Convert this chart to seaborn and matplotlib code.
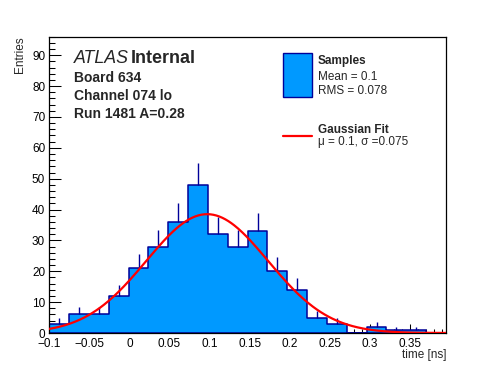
import numpy as np
import pandas as pd
import matplotlib
matplotlib.use("Agg")
import matplotlib.pyplot as plt
import seaborn as sns
from matplotlib.patches import Rectangle
from matplotlib.lines import Line2D
from matplotlib.ticker import MultipleLocator

# ---------------- data ----------------
hist_range = (-0.1, 0.395)
n_bins = 20
counts = [3, 6, 6, 12, 21, 28, 36, 48, 32, 28, 33, 20, 14, 5, 3, 0, 2, 1, 1, 0]
fit_mu = 0.097
fit_sigma = 0.076
fit_amp = 38.5
x_ticks = [-0.1, -0.05, 0, 0.05, 0.1, 0.15, 0.2, 0.25, 0.3, 0.35]
x_tick_labels = ["\u22120.1", "\u22120.05", "0", "0.05", "0.1", "0.15", "0.2", "0.25", "0.3", "0.35"]
y_ticks = [0, 10, 20, 30, 40, 50, 60, 70, 80, 90]
y_tick_labels = ["0", "10", "20", "30", "40", "50", "60", "70", "80", "90"]
info_lines = ["Board 634", "Channel 074 lo", "Run 1481 A=0.28"]
legend_hist_title = "Samples"
legend_hist_lines = ["Mean = 0.1", "RMS = 0.078"]
legend_fit_title = "Gaussian Fit"
legend_fit_line = "\u03bc = 0.1, \u03c3 =0.075"

# ---------------- style ----------------
sns.set_style("ticks")
plt.rcParams["font.family"] = ["Liberation Sans", "DejaVu Sans"]

FILL = "#0099ff"
EDGE = "#000099"
W, H = 496, 372

fig = plt.figure(figsize=(W / 100, H / 100), dpi=100)
L, R, T, B = 49.3, 446.0, 36.7, 333.0
ax = fig.add_axes([L / W, (H - B) / H, (R - L) / W, (B - T) / H])


def fp(x, y):
    return (x / W, (H - y) / H)


edges = np.linspace(hist_range[0], hist_range[1], n_bins + 1)
centers = 0.5 * (edges[:-1] + edges[1:])
cnt = np.asarray(counts, dtype=float)
df = pd.DataFrame({"time": centers, "entries": cnt})

sns.histplot(data=df, x="time", weights="entries", bins=[float(e) for e in edges],
             element="step", fill=True, color=FILL, edgecolor=EDGE, linewidth=1.1,
             alpha=1.0, ax=ax)

# statistical error bars (upper part visible above the bar)
m = cnt > 0
ax.vlines(centers[m], cnt[m], cnt[m] + np.sqrt(cnt[m]), color=EDGE, linewidth=1.0, zorder=3)

# gaussian fit
xs = np.linspace(hist_range[0], hist_range[1], 400)
ys = fit_amp * np.exp(-0.5 * ((xs - fit_mu) / fit_sigma) ** 2)
sns.lineplot(x=xs, y=ys, color="red", linewidth=1.6, ax=ax, zorder=4)

ax.set_xlim(hist_range)
ax.set_ylim(0, 96)
ax.set_xticks(x_ticks, labels=x_tick_labels)
ax.set_yticks(y_ticks, labels=y_tick_labels)
ax.xaxis.set_minor_locator(MultipleLocator(0.01))
ax.yaxis.set_minor_locator(MultipleLocator(2))
ax.tick_params(axis="both", which="both", direction="in", top=False, right=False,
               width=0.75, colors="black", labelsize=8.5)
ax.tick_params(axis="x", which="major", length=6.4, pad=3.6)
ax.tick_params(axis="x", which="minor", length=3.2)
ax.tick_params(axis="y", which="major", length=8.5, pad=3.0)
ax.tick_params(axis="y", which="minor", length=4.3)
for lab in ax.get_yticklabels():
    lab.set_va("center_baseline")
for s in ax.spines.values():
    s.set_linewidth(0.9)
    s.set_color("black")
ax.set_xlabel("")
ax.set_ylabel("")

fig.text(*fp(446, 358), "time [ns]", ha="right", va="baseline", fontsize=8.5)
fig.text(*fp(20.5, 36.5), "Entries", ha="center", va="top", rotation=90, fontsize=8.5)

# ATLAS label and info
fig.text(*fp(74.0, 63), "ATLAS", ha="left", va="baseline", fontsize=12.8, style="italic")
fig.text(*fp(131.0, 63), "Internal", ha="left", va="baseline", fontsize=13.0, weight="bold")
for yb, line in zip([81.5, 100.0, 118.3], info_lines):
    fig.text(*fp(74.3, yb), line, ha="left", va="baseline", fontsize=10, weight="bold")

# legend (drawn manually)
fig.patches.append(Rectangle(fp(283.3, 96.7), 28.4 / W, 43.4 / H, transform=fig.transFigure,
                             facecolor=FILL, edgecolor=EDGE, linewidth=1.0))
fig.text(*fp(317.7, 64), legend_hist_title, ha="left", va="baseline", fontsize=8.5, weight="bold")
for yb, line in zip([80, 94], legend_hist_lines):
    fig.text(*fp(317.7, yb), line, ha="left", va="baseline", fontsize=8.5)
fig.lines.append(Line2D([283.3 / W, 311.7 / W], [(H - 136) / H] * 2, transform=fig.transFigure,
                        color="red", linewidth=1.6))
fig.text(*fp(317.7, 133.3), legend_fit_title, ha="left", va="baseline", fontsize=8.5, weight="bold")
fig.text(*fp(317.7, 144.5), legend_fit_line, ha="left", va="baseline", fontsize=8.5)

fig.savefig("out.png", dpi=100, facecolor="white")
